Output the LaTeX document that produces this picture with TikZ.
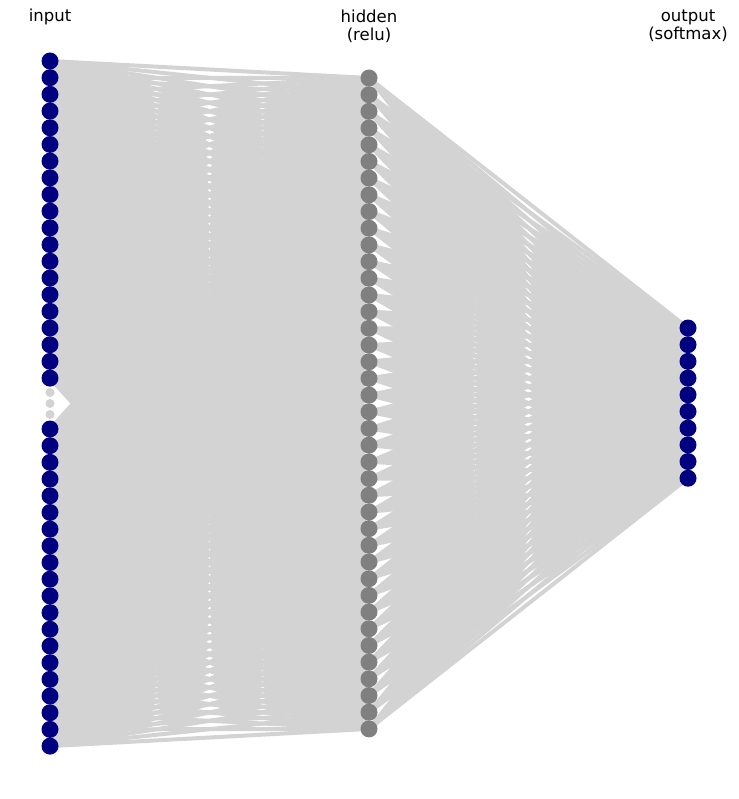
\documentclass[tikz,border=0pt]{standalone}
\usepackage{fontspec}
\setmainfont{DejaVu Sans}
\pgfdeclarelayer{edges}
\pgfsetlayers{edges,main}
\definecolor{unitblue}{RGB}{0,0,128}
\definecolor{unitgray}{RGB}{128,128,128}
\definecolor{edgegray}{RGB}{211,211,211}
\tikzset{
  unit/.style = {circle, fill=#1, minimum size=17pt,
                 inner sep=0pt, outer sep=0pt},
  unit/.default = unitblue,
  gap/.style = {circle, fill=edgegray, minimum size=9pt, inner sep=0pt},
  wire/.style = {edgegray, line width=4pt},
  title/.style = {font=\fontsize{16.5}{18}\selectfont, align=center}
}

\begin{document}
\begin{tikzpicture}[x=1pt, y=-1pt]
	\def \s{16.69}   % spacing of the units
	\def \xin{50}
	\def \xhid{369}
	\def \xout{688}

	\useasboundingbox (0,0) rectangle (738,799);

	% Input layer (top and bottom part)
	\foreach \i in {1,...,20}
		\node[unit] (in\i) at (\xin, {61+(\i-1)*\s}) {};
	\foreach \i in {21,...,40}
		\node[unit] (in\i) at (\xin, {429+(\i-21)*\s}) {};

	% Skipped inputs
	\node[gap] (d1) at (\xin, 392.5) {};
	\node[gap] (d2) at (\xin, 403.5) {};
	\node[gap] (d3) at (\xin, 414.5) {};

	% Hidden layer
	\foreach \j in {1,...,40}
		\node[unit=unitgray] (h\j) at (\xhid, {78+(\j-1)*\s}) {};

	% Output layer
	\foreach \k in {1,...,10}
		\node[unit] (out\k) at (\xout, {328+(\k-1)*\s}) {};

	% Weights
	\begin{pgfonlayer}{edges}
		\foreach \i in {1,...,40}
			\foreach \j in {1,...,40}
				\draw[wire] (in\i.center) -- (h\j.center);
		\foreach \j in {1,...,40}
			\foreach \k in {1,...,10}
				\draw[wire] (h\j.center) -- (out\k.center);
	\end{pgfonlayer}

	% Layer names
	\node[title] (tin) at (\xin, 17) {input};
	\node[title] (thid) at (\xhid, 26) {hidden\\(relu)};
	\node[title] (tout) at (\xout, 26) {output\\(softmax)};
\end{tikzpicture}
\end{document}
